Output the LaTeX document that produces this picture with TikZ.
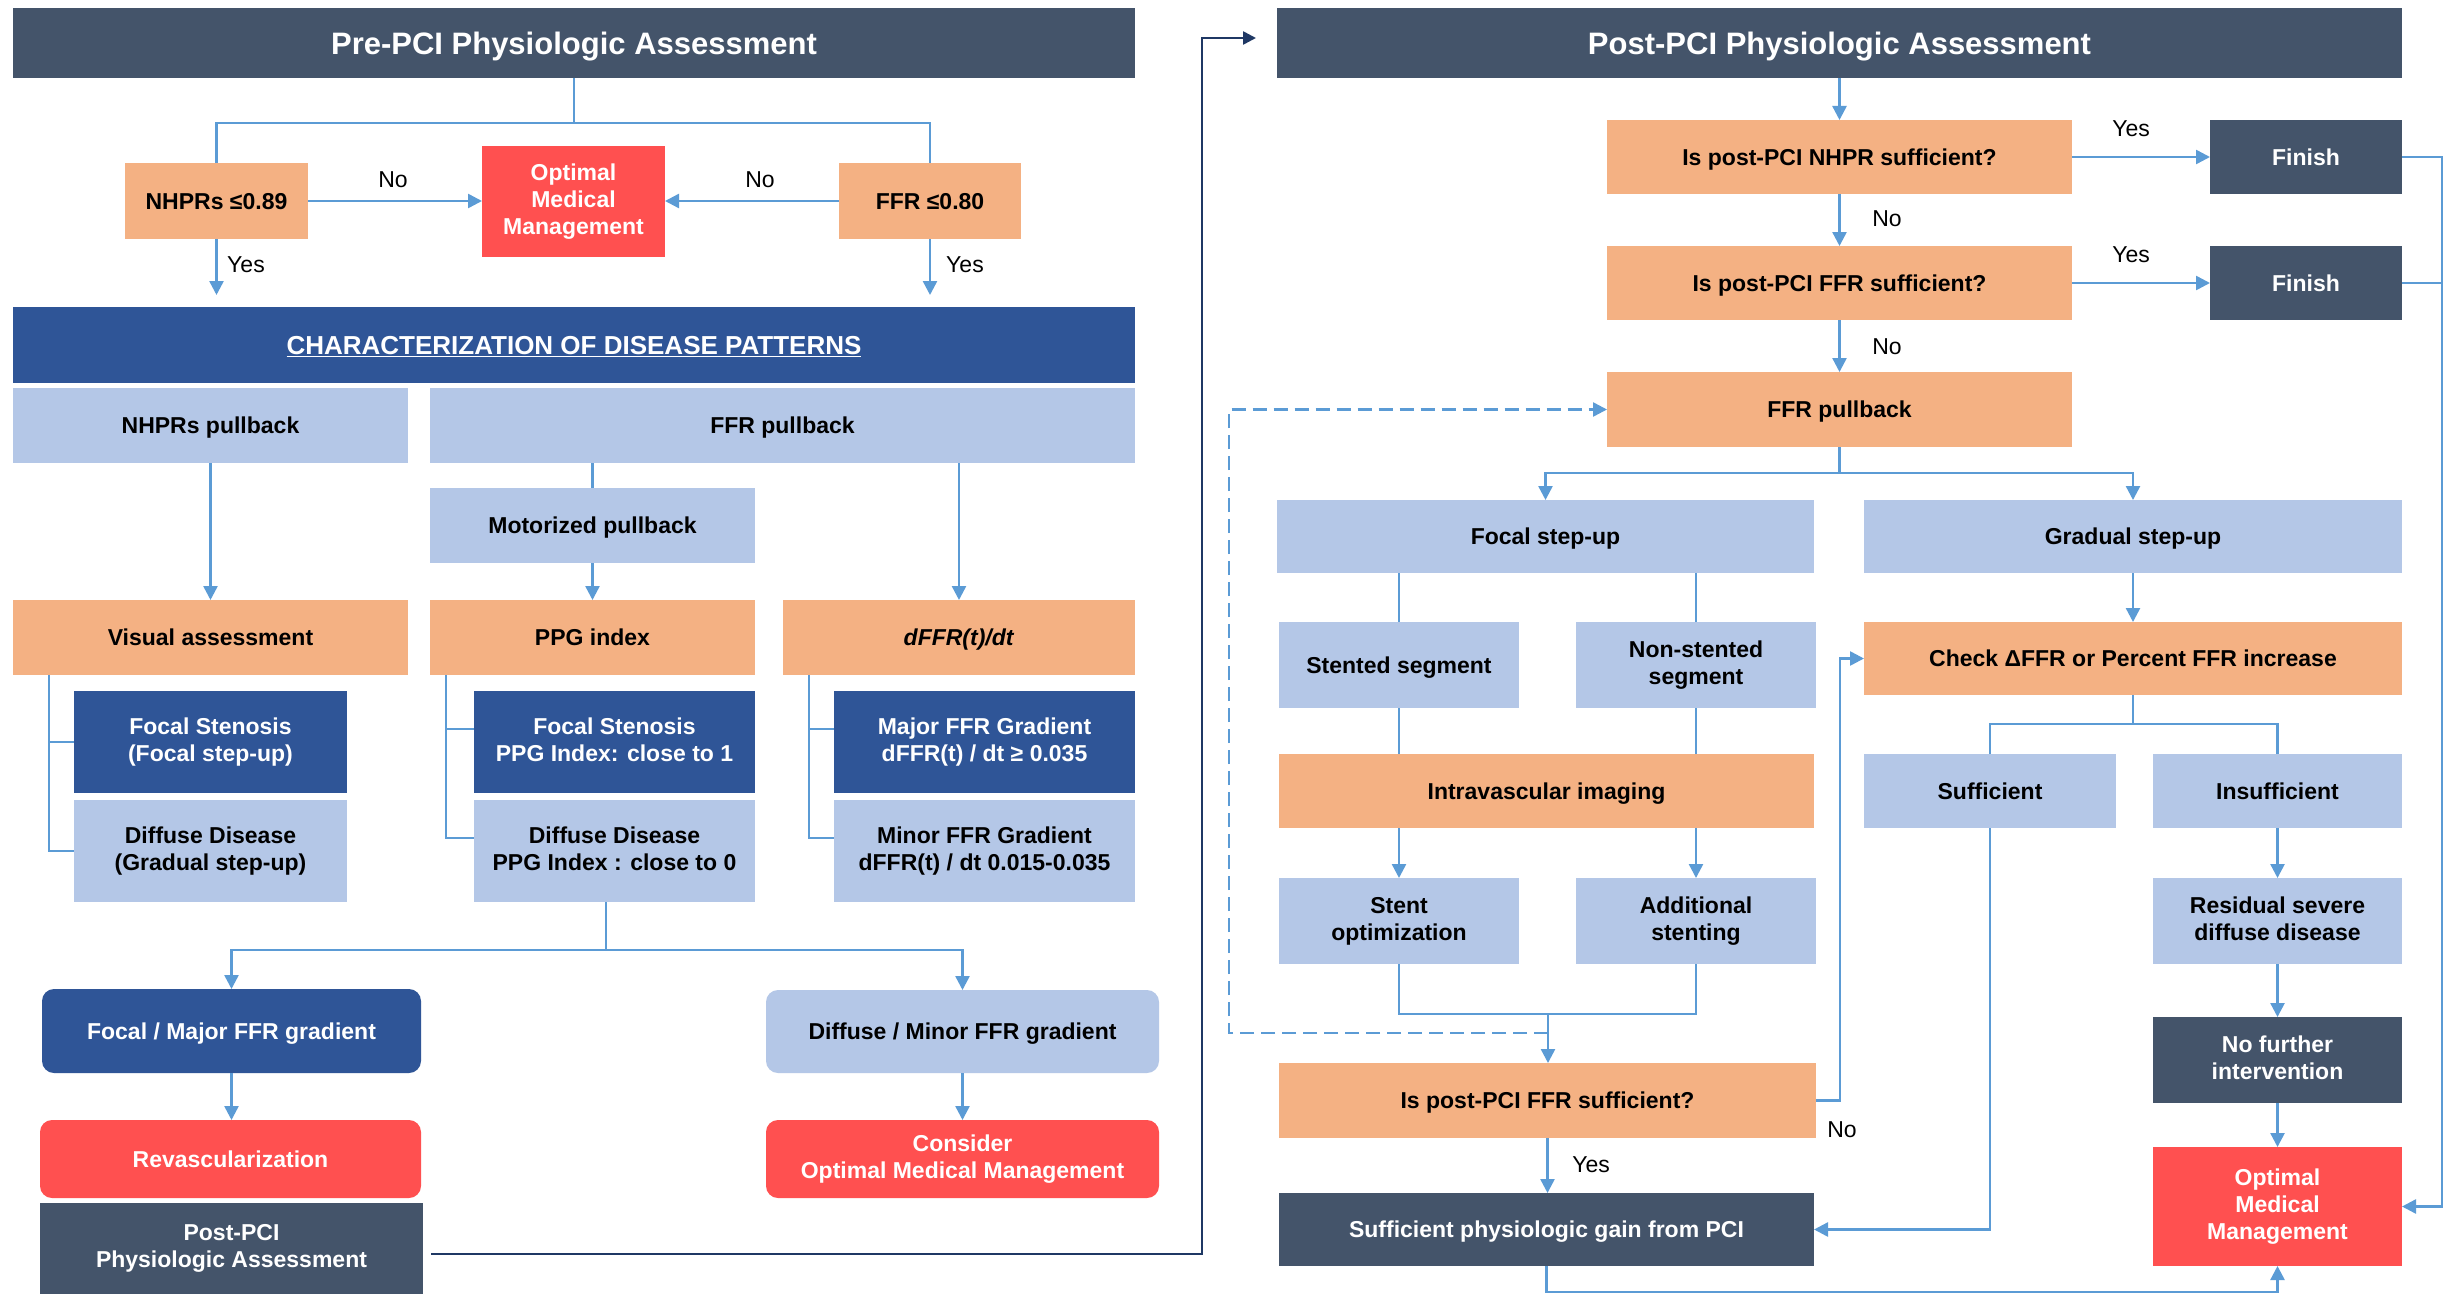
\documentclass[tikz,border=0pt]{standalone}
\usepackage{fontspec}
\setmainfont{Liberation Sans}
\usetikzlibrary{arrows.meta}
\definecolor{cdark}{HTML}{44546A}
\definecolor{cblue}{HTML}{2F5597}
\definecolor{clight}{HTML}{B4C7E7}
\definecolor{corange}{HTML}{F4B183}
\definecolor{cred}{HTML}{FF5050}
\definecolor{cline}{HTML}{5B9BD5}
\definecolor{cnavy}{HTML}{1F3864}
\newcommand\mybox[8][]{%
  \pgfmathsetmacro\mbcx{(#4+#6)/2}\pgfmathsetmacro\mbcy{(#5+#7)/2}%
  \pgfmathsetmacro\mbw{#6-#4}\pgfmathsetmacro\mbh{#7-#5}%
  \node[#2, minimum width=\mbw pt, minimum height=\mbh pt, #1] (#3) at (\mbcx,\mbcy) {#8};}
\begin{document}
\begin{tikzpicture}[x=1pt,y=-1pt,
  base/.style={inner sep=0pt, outer sep=0pt, align=center, font=\fontsize{23}{27}\selectfont\bfseries,
    execute at begin node={\rule{0pt}{0.93em}},
    execute at end node={\rule[-0.21em]{0pt}{0.21em}}},
  darkbox/.style={base, fill=cdark, text=white},
  bluebox/.style={base, fill=cblue, text=white},
  lightbox/.style={base, fill=clight, text=black},
  orangebox/.style={base, fill=corange, text=black},
  redbox/.style={base, fill=cred, text=white},
  rbox/.style={rounded corners=12pt},
  hdr/.style={font=\fontsize{31}{36}\selectfont\bfseries},
  conn/.style={draw=cline, line width=2.5pt},
  arr/.style={conn, -{Triangle[width=14pt,length=14pt]}},
  dconn/.style={conn, dash pattern=on 14pt off 7pt, -{Triangle[width=14pt,length=14pt]}},
  navyarr/.style={draw=cnavy, line width=2.5pt, -{Triangle[width=13pt,length=13pt]}},
  lbl/.style={font=\fontsize{23}{27}\selectfont, inner sep=0pt}
]
\useasboundingbox (0,0) rectangle (2450,1303);
\fill[white] (0,0) rectangle (2450,1303);

% ---------- Left panel ----------
\mybox[hdr]{darkbox}{preh}{13}{8}{1135}{78}{Pre-PCI Physiologic Assessment}
\mybox{orangebox}{nhprs}{125}{163}{308}{239}{NHPRs ≤0.89}
\mybox{redbox}{omm1}{482}{146}{665}{257}{Optimal\\Medical\\Management}
\mybox{orangebox}{ffr1}{839}{163}{1021}{239}{FFR ≤0.80}
\mybox[font=\fontsize{26}{30}\selectfont\bfseries]{bluebox}{charz}{13}{307}{1135}{383}{\underline{CHARACTERIZATION OF DISEASE PATTERNS}}
\mybox{lightbox}{nhprpb}{13}{388}{408}{463}{NHPRs pullback}
\mybox{lightbox}{ffrpb}{430}{388}{1135}{463}{FFR pullback}
\mybox{lightbox}{motor}{430}{488}{755}{563}{Motorized pullback}
\mybox{orangebox}{visual}{13}{600}{408}{675}{Visual assessment}
\mybox{orangebox}{ppg}{430}{600}{755}{675}{PPG index}
\mybox{orangebox}{dffr}{783}{600}{1135}{675}{\textit{dFFR(t)/dt}}
\mybox{bluebox}{focal1}{74}{691}{347}{793}{Focal Stenosis\\(Focal step-up)}
\mybox{lightbox}{diff1}{74}{800}{347}{902}{Diffuse Disease\\(Gradual step-up)}
\mybox{bluebox}{focal2}{474}{691}{755}{793}{Focal Stenosis\\PPG Index: close to 1}
\mybox{lightbox}{diff2}{474}{800}{755}{902}{Diffuse Disease\\PPG Index : close to 0}
\mybox{bluebox}{major}{834}{691}{1135}{793}{Major FFR Gradient\\dFFR(t) / dt ≥ 0.035}
\mybox{lightbox}{minor}{834}{800}{1135}{902}{Minor FFR Gradient\\dFFR(t) / dt 0.015-0.035}
\mybox[rbox]{bluebox}{fmg}{42}{989}{421}{1073}{Focal / Major FFR gradient}
\mybox[rbox]{lightbox}{dmg}{766}{990}{1159}{1073}{Diffuse / Minor FFR gradient}
\mybox[rbox]{redbox}{revasc}{40}{1120}{421}{1198}{Revascularization}
\mybox[rbox]{redbox}{consider}{766}{1120}{1159}{1198}{Consider\\Optimal Medical Management}
\mybox{darkbox}{postlink}{40}{1203}{423}{1294}{Post-PCI\\Physiologic Assessment}

% left connectors
\draw[conn] (preh.south) -- ++(0,45) coordinate (j0);
\draw[conn] (nhprs.north) |- (j0) -| (ffr1.north);
\draw[arr] (nhprs.south) -- ++(0,56) coordinate (y1end);
\draw[arr] (ffr1.south) -- ++(0,56) coordinate (y2end);
\node[lbl] (yes1) at (246,265) {Yes};
\node[lbl] (yes2) at (965,265) {Yes};
\draw[arr] (nhprs.east) -- (nhprs.east -| omm1.west);
\draw[arr] (ffr1.west) -- (ffr1.west -| omm1.east);
\node[lbl] (no1) at (393,180) {No};
\node[lbl] (no2) at (760,180) {No};

\draw[arr] (nhprpb.south) -- (visual.north);
\draw[conn] (ffrpb.south -| motor.north) -- (motor.north);
\draw[arr] (motor.south) -- (ppg.north);
\draw[arr] (ffrpb.south -| dffr.north) -- (dffr.north);

\draw[conn] ([xshift=36pt]visual.south west) |- (focal1.west);
\draw[conn] ([xshift=36pt]visual.south west) |- (diff1.west);
\draw[conn] ([xshift=16pt]ppg.south west) |- ([yshift=13pt]focal2.west);
\draw[conn] ([xshift=16pt]ppg.south west) |- ([yshift=13pt]diff2.west);
\draw[conn] ([xshift=26pt]dffr.south west) |- ([yshift=13pt]major.west);
\draw[conn] ([xshift=26pt]dffr.south west) |- ([yshift=13pt]minor.west);

\draw[conn] ([xshift=-8.5pt]diff2.south) -- ++(0,48) coordinate (j1);
\draw[arr] (j1) -| (fmg.north);
\draw[arr] (j1) -| (dmg.north);
\draw[arr] (fmg.south) -- (fmg.south |- revasc.north);
\draw[arr] (dmg.south) -- (consider.north);

% ---------- Right panel ----------
\mybox[hdr]{darkbox}{posth}{1277}{8}{2402}{78}{Post-PCI Physiologic Assessment}
\mybox{orangebox}{q1}{1607}{120}{2072}{194}{Is post-PCI NHPR sufficient?}
\mybox{darkbox}{fin1}{2210}{120}{2402}{194}{Finish}
\mybox{orangebox}{q2}{1607}{246}{2072}{320}{Is post-PCI FFR sufficient?}
\mybox{darkbox}{fin2}{2210}{246}{2402}{320}{Finish}
\mybox{orangebox}{ffrpb2}{1607}{372}{2072}{447}{FFR pullback}
\mybox{lightbox}{focalsu}{1277}{500}{1814}{573}{Focal step-up}
\mybox{lightbox}{gradsu}{1864}{500}{2402}{573}{Gradual step-up}
\mybox{lightbox}{stented}{1279}{622}{1519}{708}{Stented segment}
\mybox{lightbox}{nonst}{1576}{622}{1816}{708}{Non-stented\\segment}
\mybox{orangebox}{check}{1864}{622}{2402}{695}{Check ΔFFR or Percent FFR increase}
\mybox{orangebox}{ivi}{1279}{754}{1814}{828}{Intravascular imaging}
\mybox{lightbox}{suff}{1864}{754}{2116}{828}{Sufficient}
\mybox{lightbox}{insuff}{2153}{754}{2402}{828}{Insufficient}
\mybox{lightbox}{stopt}{1279}{878}{1519}{964}{Stent\\optimization}
\mybox{lightbox}{addst}{1576}{878}{1816}{964}{Additional\\stenting}
\mybox{lightbox}{resid}{2153}{878}{2402}{964}{Residual severe\\diffuse disease}
\mybox{orangebox}{q3}{1279}{1063}{1816}{1138}{Is post-PCI FFR sufficient?}
\mybox{darkbox}{nofurther}{2153}{1017}{2402}{1103}{No further\\intervention}
\mybox{darkbox}{spg}{1279}{1193}{1814}{1266}{Sufficient physiologic gain from PCI}
\mybox{redbox}{omm2}{2153}{1147}{2402}{1266}{Optimal\\Medical\\Management}

% link to post-PCI
\coordinate (lk) at (1202,38);
\draw[navyarr, shorten >=21pt] ([xshift=8pt,yshift=-5.5pt]postlink.east) -| (lk) -- (lk -| posth.west);

% right connectors
\draw[arr] (posth.south) -- (q1.north);
\draw[arr] (q1.east) -- (fin1.west);
\node[lbl] (yes3) at (2131,129) {Yes};
\draw[arr] (q1.south) -- (q2.north);
\node[lbl] (no3) at (1887,219) {No};
\draw[arr] (q2.east) -- (fin2.west);
\node[lbl] (yes4) at (2131,255) {Yes};
\draw[arr] (q2.south) -- (ffrpb2.north);
\node[lbl] (no4) at (1887,347) {No};

\draw[conn] (ffrpb2.south) -- ++(0,26) coordinate (j2);
\draw[arr] (j2) -| (focalsu.north);
\draw[arr] (j2) -| (gradsu.north);
\draw[conn] (focalsu.south -| stented.north) -- (stented.north);
\draw[conn] (focalsu.south -| nonst.north) -- (nonst.north);
\draw[conn] (stented.south) -- (stented.south |- ivi.north);
\draw[conn] (nonst.south) -- (nonst.south |- ivi.north);
\draw[arr] (ivi.south -| stopt.north) -- (stopt.north);
\draw[arr] (ivi.south -| addst.north) -- (addst.north);
\coordinate (j3) at (1548,1014);
\draw[conn] (stopt.south) |- (j3) -| (addst.south);
\draw[arr] (j3) -- (j3 |- q3.north);

\coordinate (d1) at (1548,1033);
\coordinate (dx) at (1229,0);
\draw[dconn] (d1) -| (ffrpb2.west -| dx) -- (ffrpb2.west);

\coordinate (nx) at (1840,0);
\draw[arr] (q3.east) -| (check.west -| nx) -- (check.west);
\node[lbl] (no5) at (1842,1130) {No};
\draw[arr] (q3.south) -- (q3.south |- spg.north);
\node[lbl] (yes5) at (1591,1165) {Yes};

\draw[arr] (gradsu.south) -- (check.north);
\draw[conn] (check.south) -- ++(0,29) coordinate (j4);
\draw[conn] (suff.north) |- (j4) -| (insuff.north);
\draw[arr] (insuff.south) -- (resid.north);
\draw[arr] (resid.south) -- (nofurther.north);
\draw[arr] (nofurther.south) -- (omm2.north);
\draw[arr] (suff.south) |- (spg.east);
\draw[arr] (spg.south) -- ++(0,26) -| (omm2.south);

\coordinate (fx) at (2442,0);
\draw[arr] (fin1.east) -| (omm2.east -| fx) -- (omm2.east);
\draw[conn] (fin2.east) -- (fin2.east -| fx);
\end{tikzpicture}
\end{document}
